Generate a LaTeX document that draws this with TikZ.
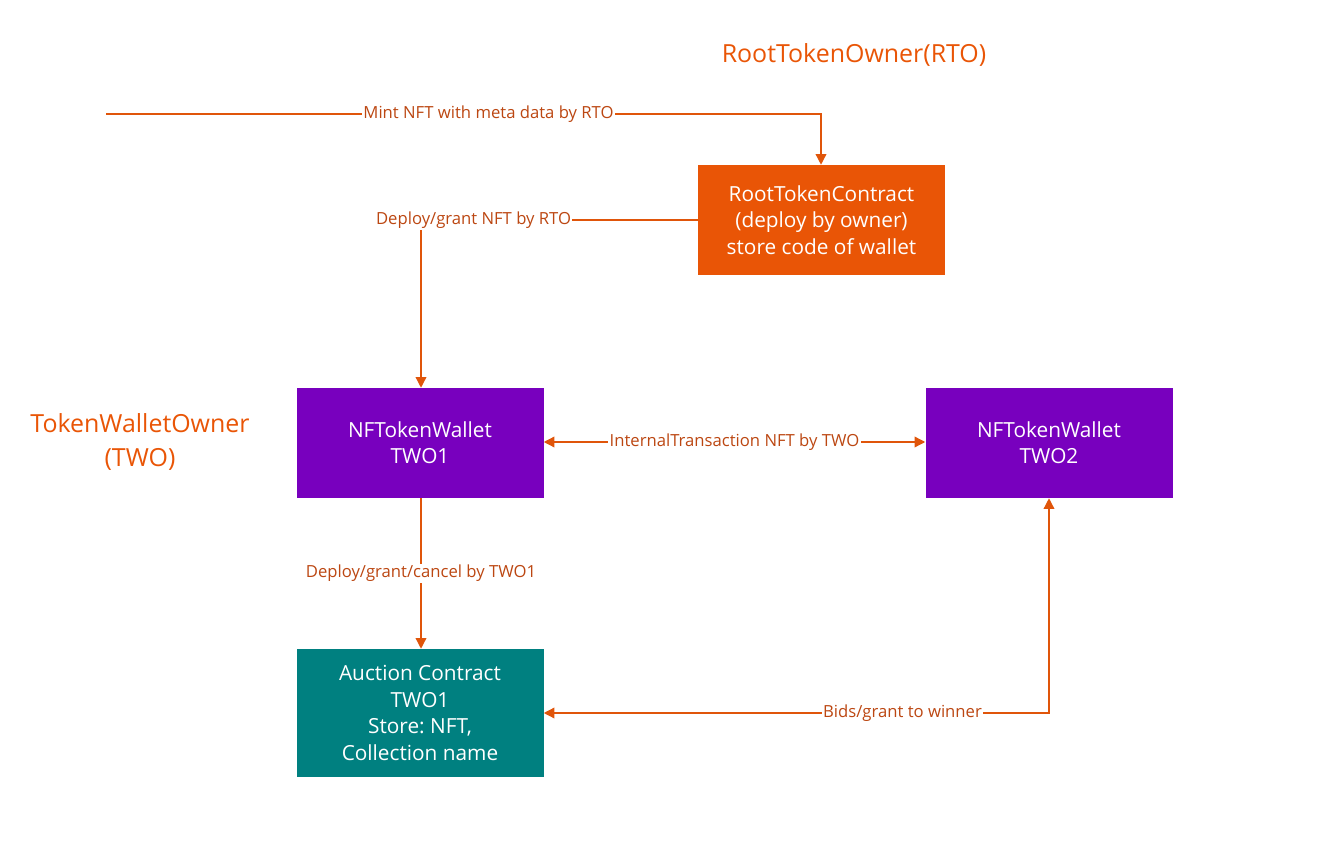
\documentclass[tikz,border=0pt]{standalone}
\usepackage{fontspec}
\setmainfont{Open Sans}
\frenchspacing
\usetikzlibrary{arrows.meta}
\definecolor{rto}{HTML}{E95506}
\definecolor{twop}{HTML}{7800BE}
\definecolor{teal2}{HTML}{008080}
\definecolor{lbl}{HTML}{BC4712}
\definecolor{ln}{HTML}{E0550A}
\tikzset{
  box/.style={rectangle, minimum width=185.25pt, minimum height=82.5pt, inner sep=0pt, text=white, align=center, font=\fontsize{15.6}{19.8}\selectfont},
  conn/.style={draw=ln, line width=1pt},
  tip/.style={-{Triangle[length=8pt,width=8pt]}},
  lab/.style={fill=white, text=lbl, inner sep=1pt, font=\fontsize{12.5}{14}\selectfont},
  title/.style={text=rto, align=center, font=\fontsize{18.7}{24.8}\selectfont}
}
\begin{document}
\begin{tikzpicture}[x=0.75pt, y=-0.75pt]
\useasboundingbox (0,0) rectangle (1329,859);
\node[title] (rtotitle) at (854,55) {RootTokenOwner(RTO)};
\node[title] (twotitle) at (140,442) {TokenWalletOwner\\(TWO)};
\node[box, fill=rto] (rtc) at (821.5,220) {RootTokenContract\\(deploy by owner)\\store code of wallet};
\node[box, fill=twop] (w1) at (420,443) {NFTokenWallet\\TWO1};
\node[box, fill=twop] (w2) at (1049,443) {NFTokenWallet\\TWO2};
\node[box, fill=teal2, minimum height=96pt] (auc) at (420,713) {Auction Contract\\TWO1\\Store: NFT,\\Collection name};
\coordinate (mintstart) at (106,114);
\draw[conn, tip] (mintstart) -- (821,114) node[lab, pos=0.535] {Mint NFT with meta data by RTO} -- (rtc.north -| 821,0);
\draw[conn, tip] (rtc.west |- 0,220) -- (421,220) node[lab, pos=0.81] {Deploy/grant NFT by RTO} -- (w1.north -| 421,0);
\draw[conn, {Triangle[length=8pt,width=8pt]}-{Triangle[length=8pt,width=8pt]}] (w1.east |- 0,442) -- node[lab] {InternalTransaction NFT by TWO} (w2.west |- 0,442);
\draw[conn, tip] (w1.south -| 421,0) -- node[lab] {Deploy/grant/cancel by TWO1} (auc.north -| 421,0);
\draw[conn, {Triangle[length=8pt,width=8pt]}-{Triangle[length=8pt,width=8pt]}] (auc.east |- 0,713) -- (1049,713) node[lab, pos=0.71] {Bids/grant to winner} -- (w2.south);
\end{tikzpicture}
\end{document}
